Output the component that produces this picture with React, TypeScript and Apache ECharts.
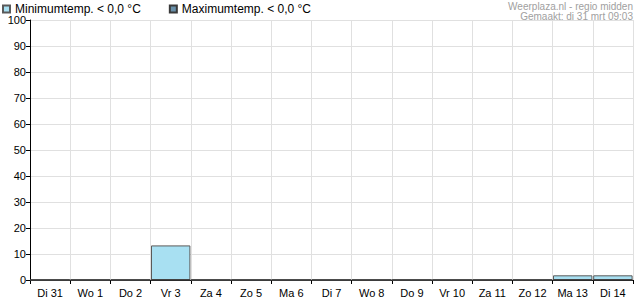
import React, { useEffect, useRef } from "react";
import * as echarts from "echarts";

const categories = ["Di 31", "Wo 1", "Do 2", "Vr 3", "Za 4", "Zo 5", "Ma 6", "Di 7", "Wo 8", "Do 9", "Vr 10", "Za 11", "Zo 12", "Ma 13", "Di 14"];
const minTempBelowZero = [0, 0, 0, 13.3, 0, 0, 0, 0, 0, 0, 0, 0, 0, 1.8, 1.8];
const maxTempBelowZero = [0, 0, 0, 0, 0, 0, 0, 0, 0, 0, 0, 0, 0, 0, 0];
const seriesNames = ["Minimumtemp. < 0,0 °C", "Maximumtemp. < 0,0 °C"];
const headerLines = ["Weerplaza.nl - regio midden", "Gemaakt: di 31 mrt 09:03"];

const FONT = "Liberation Sans, Arial, sans-serif";

export default function App() {
  const ref = useRef<HTMLDivElement>(null);
  useEffect(() => {
    if (!ref.current) return;
    const chart = echarts.init(ref.current, undefined, { renderer: "svg" });
    chart.setOption({
      animation: false,
      backgroundColor: "#ffffff",
      textStyle: { fontFamily: FONT },
      grid: { left: 30, right: 2, top: 20, bottom: 20, containLabel: false },
      legend: {
        left: 2,
        top: 3,
        padding: 0,
        icon: "rect",
        itemWidth: 7,
        itemHeight: 7,
        itemGap: 28,
        textStyle: { fontFamily: FONT, fontSize: 12, color: "#000" },
        data: seriesNames,
      },
      graphic: [
        {
          type: "text",
          right: 2,
          top: 1,
          style: { text: headerLines[0], fontFamily: FONT, fontSize: 10, fill: "#a0a0a0", textAlign: "right" },
        },
        {
          type: "text",
          right: 2,
          top: 11,
          style: { text: headerLines[1], fontFamily: FONT, fontSize: 10, fill: "#a0a0a0", textAlign: "right" },
        },
      ],
      xAxis: {
        type: "category",
        data: categories,
        boundaryGap: true,
        axisLine: { lineStyle: { color: "#000", width: 1 } },
        axisTick: { show: true, alignWithLabel: false, length: 4, lineStyle: { color: "#000" } },
        axisLabel: { color: "#000", fontSize: 11, fontFamily: FONT, margin: 7, interval: 0 },
        splitLine: { show: true, interval: 0, lineStyle: { color: "#e0e0e0" } },
      },
      yAxis: {
        type: "value",
        min: 0,
        max: 100,
        interval: 10,
        axisLine: { show: true, lineStyle: { color: "#000", width: 1 } },
        axisTick: { show: true, length: 4, lineStyle: { color: "#000" } },
        axisLabel: { color: "#000", fontSize: 11, fontFamily: FONT, margin: 4 },
        splitLine: { show: true, lineStyle: { color: "#e0e0e0" } },
      },
      series: [
        {
          name: seriesNames[0],
          type: "bar",
          data: minTempBelowZero,
          barCategoryGap: "2%",
          barGap: "-100%",
          itemStyle: { color: "#a8e0f2", borderColor: "#5a5a5a", borderWidth: 1 },
        },
        {
          name: seriesNames[1],
          type: "bar",
          data: maxTempBelowZero,
          barCategoryGap: "2%",
          barGap: "-100%",
          itemStyle: { color: "#6890aa", borderColor: "#3a3a3a", borderWidth: 1 },
        },
      ],
    });
    return () => chart.dispose();
  }, []);
  return <div ref={ref} style={{ width: 635, height: 300, position: "absolute", left: 0, top: 0 }} />;
}
